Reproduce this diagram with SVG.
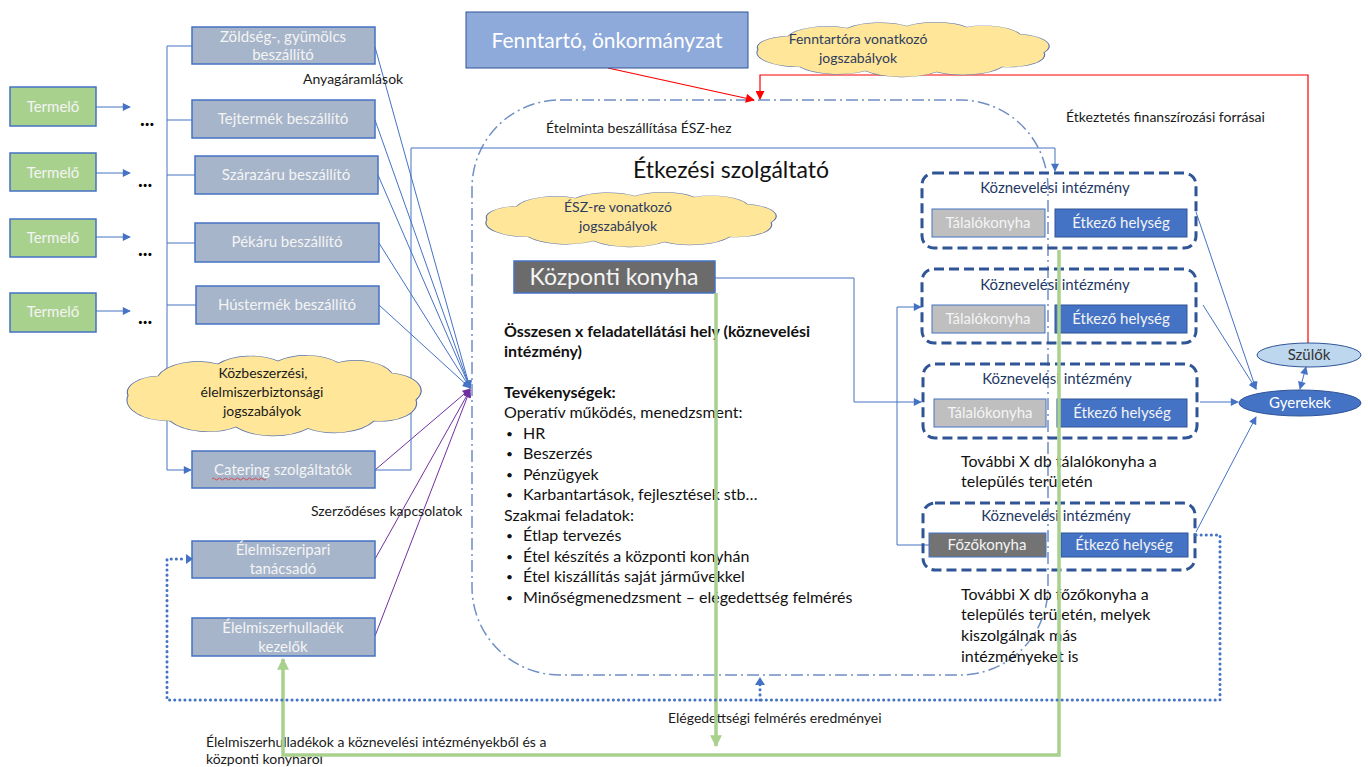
<svg xmlns="http://www.w3.org/2000/svg" width="1368" height="767" viewBox="0 0 1368 767">
<style>
text{font-family:Lato,'Liberation Sans',sans-serif;}
.term{fill:#a9d18e;stroke:#4472c4;stroke-width:1.5}
.sup{fill:#a6b5ca;stroke:#4472c4;stroke-width:1.5}
.wt{fill:#f4f4f4;font-size:15px;text-anchor:middle}
.lbl{fill:#1a1a1a;font-size:14px}
.body{fill:#111;font-size:16px}
.bul{fill:#111;font-size:12px}
.cloud{fill:#ffe699;stroke:#5b73a8;stroke-width:1.2}
.kz{fill:none;stroke:#2f5597;stroke-width:3;stroke-dasharray:10 5}
.kzt{fill:#1f3864;font-size:15px;text-anchor:middle}
.tal{fill:#bfbfbf;stroke:#4472c4;stroke-width:1}
.etk{fill:#4472c4;stroke:#2f5597;stroke-width:1}
.blue{fill:none;stroke:#4472c4;stroke-width:1}
.purp{fill:none;stroke:#7030a0;stroke-width:1}
.red{fill:none;stroke:#ff0000;stroke-width:1.2}
.green{fill:none;stroke:#a9d18e;stroke-width:3.5}
.dot{fill:none;stroke:#4472c4;stroke-width:3;stroke-dasharray:0.1 5;stroke-linecap:round}
.dots{fill:#000;font-size:20px;font-weight:700}
</style>
<defs>
<marker id="ab" viewBox="0 0 10 10" refX="9" refY="5" markerWidth="10" markerHeight="8" markerUnits="userSpaceOnUse" orient="auto-start-reverse"><path d="M0,0 L10,5 L0,10 Z" fill="#4472c4"/></marker>
<marker id="ap" viewBox="0 0 10 10" refX="9" refY="5" markerWidth="10" markerHeight="8" markerUnits="userSpaceOnUse" orient="auto"><path d="M0,0 L10,5 L0,10 Z" fill="#7030a0"/></marker>
<marker id="ar" viewBox="0 0 10 10" refX="9" refY="5" markerWidth="11" markerHeight="9" markerUnits="userSpaceOnUse" orient="auto"><path d="M0,0 L10,5 L0,10 Z" fill="#ff0000"/></marker>
<marker id="ag" viewBox="0 0 10 10" refX="9" refY="5" markerWidth="14" markerHeight="12" markerUnits="userSpaceOnUse" orient="auto"><path d="M0,0 L10,5 L0,10 Z" fill="#a9d18e"/></marker>
<path id="cloudp" d="M2,27 A11,11 0 0 1 12,14 A14,14 0 0 1 32,6 A14,14 0 0 1 52,4 A14,14 0 0 1 72,5 A13,13 0 0 1 90,12 A12,12 0 0 1 98,30 A12,12 0 0 1 84,44 A15,15 0 0 1 62,49 A16,16 0 0 1 38,48 A15,15 0 0 1 16,44 A14,14 0 0 1 2,27 Z"/>
</defs>

<rect width="1368" height="767" fill="#ffffff"/>

<g id="container-esz">
<rect x="472" y="100" width="576" height="575" rx="88" ry="88" fill="none" stroke="#6f8fc5" stroke-width="1.5" stroke-dasharray="12 4 2 4"/>
</g>

<g id="connectors">
<line class="blue" x1="96" y1="107" x2="130" y2="107" stroke-width="1.5" marker-end="url(#ab)"/>
<line class="blue" x1="96" y1="173" x2="130" y2="173" stroke-width="1.5" marker-end="url(#ab)"/>
<line class="blue" x1="96" y1="237" x2="130" y2="237" stroke-width="1.5" marker-end="url(#ab)"/>
<line class="blue" x1="96" y1="311" x2="130" y2="311" stroke-width="1.5" marker-end="url(#ab)"/>
<path class="blue" stroke-width="2" d="M192,46 H167 V470 H191" marker-end="url(#ab)"/>
<path class="blue" stroke-width="1.5" d="M167,120 H192 M167,175 H195 M167,243 H195 M167,305 H196"/>
<line class="blue" x1="375" y1="47" x2="470" y2="388" marker-end="url(#ab)"/>
<line class="blue" x1="375" y1="120" x2="470" y2="388" marker-end="url(#ab)"/>
<line class="blue" x1="378" y1="175" x2="470" y2="388" marker-end="url(#ab)"/>
<line class="blue" x1="379" y1="243" x2="470" y2="388" marker-end="url(#ab)"/>
<line class="blue" x1="379" y1="305" x2="470" y2="388" marker-end="url(#ab)"/>
<line class="purp" x1="375" y1="470" x2="470" y2="389" marker-end="url(#ap)"/>
<line class="purp" x1="375" y1="559" x2="470" y2="390" marker-end="url(#ap)"/>
<line class="purp" x1="375" y1="636" x2="470" y2="390" marker-end="url(#ap)"/>
<path class="blue" d="M375,470 H411 V148 H1055 V171" marker-end="url(#ab)"/>
<path class="blue" d="M715,278 H854 V402 H921" marker-end="url(#ab)"/>
<path class="blue" d="M929,545 H897 V307 H921" marker-end="url(#ab)"/>
<line class="blue" x1="1196" y1="212" x2="1256" y2="389" marker-end="url(#ab)"/>
<line class="blue" x1="1203" y1="305" x2="1256" y2="389" marker-end="url(#ab)"/>
<line class="blue" x1="1200" y1="402" x2="1238" y2="402" marker-end="url(#ab)"/>
<line class="blue" x1="1196" y1="532" x2="1256" y2="417" marker-end="url(#ab)"/>
<line class="blue" x1="1306" y1="367" x2="1300" y2="389" marker-start="url(#ab)" marker-end="url(#ab)"/>
<line class="red" x1="608" y1="68" x2="754" y2="100" marker-end="url(#ar)"/>
<path class="red" d="M1308,343 V75 H760 V99" marker-end="url(#ar)"/>
</g>

<g id="termelo-1"><rect class="term" x="10" y="87" width="86" height="39"/><text class="wt" x="53" y="112" font-size="16">Termelő</text></g>
<g id="termelo-2"><rect class="term" x="10" y="153" width="86" height="38"/><text class="wt" x="53" y="178" font-size="16">Termelő</text></g>
<g id="termelo-3"><rect class="term" x="10" y="219" width="86" height="38"/><text class="wt" x="53" y="243" font-size="16">Termelő</text></g>
<g id="termelo-4"><rect class="term" x="10" y="293" width="86" height="39"/><text class="wt" x="53" y="317" font-size="16">Termelő</text></g>
<g id="dots">
<text class="dots" x="140" y="126">...</text>
<text class="dots" x="138" y="187">...</text>
<text class="dots" x="138" y="256">...</text>
<text class="dots" x="138" y="324">...</text>
</g>

<g id="zoldseg"><rect class="sup" x="192" y="27" width="183" height="37"/><text class="wt" x="283" y="42">Zöldség-, gyümölcs</text><text class="wt" x="283" y="60">beszállító</text></g>
<g id="tejtermek"><rect class="sup" x="192" y="100" width="183" height="38"/><text class="wt" x="283" y="124">Tejtermék beszállító</text></g>
<g id="szarazaru"><rect class="sup" x="195" y="156" width="183" height="38"/><text class="wt" x="286" y="180">Szárazáru beszállító</text></g>
<g id="pekaru"><rect class="sup" x="195" y="223" width="184" height="39"/><text class="wt" x="287" y="247">Pékáru beszállító</text></g>
<g id="hustermek"><rect class="sup" x="196" y="286" width="183" height="38"/><text class="wt" x="287" y="310">Hústermék beszállító</text></g>
<g id="catering"><rect class="sup" x="192" y="451" width="183" height="37"/><text class="wt" x="283" y="475">Catering szolgáltatók</text>
<path d="M212,479 q1.5,-2 3,0 t3,0 t3,0 t3,0 t3,0 t3,0 t3,0 t3,0 t3,0 t3,0 t3,0 t3,0 t3,0 t3,0 t3,0 t3,0 t3,0 t3,0" fill="none" stroke="#e03030" stroke-width="0.8"/></g>
<g id="tanacsado"><rect class="sup" x="192" y="541" width="183" height="37"/><text class="wt" x="283" y="555">Élelmiszeripari</text><text class="wt" x="283" y="574">tanácsadó</text></g>
<g id="hulladek"><rect class="sup" x="192" y="618" width="183" height="38"/><text class="wt" x="283" y="633">Élelmiszerhulladék</text><text class="wt" x="283" y="652">kezelők</text></g>

<g id="cloud-kozbeszerzes">
<use href="#cloudp" class="cloud" transform="translate(122,355) scale(3,1.5)" style="stroke-width:0.4"/>
<text x="263" y="378" font-size="14" fill="#1a1a1a" text-anchor="middle">Közbeszerzési,</text>
<text x="262" y="397" font-size="14" fill="#1a1a1a" text-anchor="middle">élelmiszerbiztonsági</text>
<text x="262" y="416" font-size="14" fill="#1a1a1a" text-anchor="middle">jogszabályok</text>
</g>

<g id="fenntarto"><rect x="466" y="12" width="282" height="56" fill="#8eaadb" stroke="#2f5597" stroke-width="1"/><text x="607" y="48" font-size="21" fill="#ffffff" text-anchor="middle">Fenntartó, önkormányzat</text></g>

<g id="cloud-fenntartora">
<use href="#cloudp" class="cloud" transform="translate(752,22) scale(2.98,1.02)" style="stroke-width:0.4"/>
<text x="858" y="44" font-size="14" fill="#2e3d5c" text-anchor="middle">Fenntartóra vonatkozó</text>
<text x="858" y="63" font-size="14" fill="#2e3d5c" text-anchor="middle">jogszabályok</text>
</g>

<g id="cloud-esz">
<use href="#cloudp" class="cloud" transform="translate(481,192) scale(2.96,1.02)" style="stroke-width:0.4"/>
<text x="618" y="212" font-size="14" fill="#2e3d5c" text-anchor="middle">ÉSZ-re vonatkozó</text>
<text x="618" y="231" font-size="14" fill="#2e3d5c" text-anchor="middle">jogszabályok</text>
</g>

<g id="etkezesi-szolgaltato-title"><text x="731" y="178" font-size="23" fill="#111" text-anchor="middle">Étkezési szolgáltató</text></g>

<g id="kozponti-konyha"><rect x="514" y="261" width="201" height="32" fill="#6b6b6b" stroke="#4472c4" stroke-width="1.5"/><text x="614" y="285" font-size="23" fill="#f4f4f4" text-anchor="middle">Központi konyha</text></g>

<g id="leiras">
<text class="body" x="504" y="337" font-weight="700">Összesen x feladatellátási hely (köznevelési</text>
<text class="body" x="504" y="357" font-weight="700">intézmény)</text>
<text class="body" x="504" y="398" font-weight="700">Tevékenységek:</text>
<text class="body" x="504" y="418">Operatív működés, menedzsment:</text>
<text class="bul" x="506" y="438">•</text><text class="body" x="523" y="439">HR</text>
<text class="bul" x="506" y="458">•</text><text class="body" x="523" y="459">Beszerzés</text>
<text class="bul" x="506" y="479">•</text><text class="body" x="523" y="480">Pénzügyek</text>
<text class="bul" x="506" y="499">•</text><text class="body" x="523" y="500">Karbantartások, fejlesztések stb…</text>
<text class="body" x="504" y="521">Szakmai feladatok:</text>
<text class="bul" x="506" y="540">•</text><text class="body" x="523" y="541">Étlap tervezés</text>
<text class="bul" x="506" y="561">•</text><text class="body" x="523" y="562">Étel készítés a központi konyhán</text>
<text class="bul" x="506" y="581">•</text><text class="body" x="523" y="582">Étel kiszállítás saját járművekkel</text>
<text class="bul" x="506" y="602">•</text><text class="body" x="523" y="603">Minőségmenedzsment – elégedettség felmérés</text>
</g>

<g id="koznev-1">
<rect class="kz" x="922" y="173" width="274" height="75" rx="12"/>
<text class="kzt" x="1055" y="193">Köznevelési intézmény</text>
<rect class="tal" x="932" y="209" width="113" height="28"/><text class="wt" x="988" y="228">Tálalókonyha</text>
<rect class="etk" x="1055" y="209" width="132" height="28"/><text class="wt" x="1121" y="228" fill="#fff">Étkező helység</text>
</g>
<g id="koznev-2">
<rect class="kz" x="922" y="269" width="274" height="74" rx="12"/>
<text class="kzt" x="1055" y="290">Köznevelési intézmény</text>
<rect class="tal" x="932" y="305" width="113" height="28"/><text class="wt" x="988" y="324">Tálalókonyha</text>
<rect class="etk" x="1055" y="305" width="132" height="28"/><text class="wt" x="1121" y="324">Étkező helység</text>
</g>
<g id="koznev-3">
<rect class="kz" x="923" y="364" width="274" height="74" rx="12"/>
<text class="kzt" x="1057" y="384">Köznevelési intézmény</text>
<rect class="tal" x="934" y="399" width="112" height="28"/><text class="wt" x="990" y="418">Tálalókonyha</text>
<rect class="etk" x="1057" y="399" width="130" height="28"/><text class="wt" x="1122" y="418">Étkező helység</text>
</g>
<g id="koznev-4">
<rect class="kz" x="923" y="503" width="272" height="67" rx="12"/>
<text class="kzt" x="1056" y="521">Köznevelési intézmény</text>
<rect x="929" y="533" width="117" height="24" fill="#737373" stroke="#4472c4" stroke-width="1"/><text class="wt" x="987" y="550">Főzőkonyha</text>
<rect class="etk" x="1061" y="533" width="127" height="24"/><text class="wt" x="1124" y="550">Étkező helység</text>
</g>

<g id="tovabbi-talalo"><text class="body" x="961" y="467" font-size="15">További X db tálalókonyha a</text><text class="body" x="961" y="487" font-size="15">település területén</text></g>
<g id="tovabbi-fozo">
<text class="body" x="961" y="600" font-size="15">További X db főzőkonyha a</text>
<text class="body" x="961" y="620" font-size="15">település területén, melyek</text>
<text class="body" x="961" y="641" font-size="15">kiszolgálnak más</text>
<text class="body" x="961" y="662" font-size="15">intézményeket is</text>
</g>

<g id="szulok"><ellipse cx="1309" cy="355" rx="52" ry="12" fill="#bdd7ee" stroke="#2f5597" stroke-width="1"/><text x="1309" y="360" font-size="15" fill="#333" text-anchor="middle">Szülők</text></g>
<g id="gyerekek"><ellipse cx="1300" cy="403" rx="61" ry="13" fill="#4472c4" stroke="#2f5597" stroke-width="1"/><text x="1300" y="408" font-size="15" fill="#fff" text-anchor="middle">Gyerekek</text></g>

<g id="labels">
<text class="lbl" x="303" y="84">Anyagáramlások</text>
<text class="lbl" x="546" y="133">Ételminta beszállítása ÉSZ-hez</text>
<text class="lbl" x="1066" y="122">Étkeztetés finanszírozási forrásai</text>
<text class="lbl" x="311" y="516">Szerződéses kapcsolatok</text>
<text class="lbl" x="668" y="723">Elégedettségi felmérés eredményei</text>
<text class="lbl" x="206" y="747">Élelmiszerhulladékok a köznevelési intézményekből és a</text>
<text class="lbl" x="206" y="764">központi konyháról</text>
</g>

<g id="connectors-top">
<path class="green" d="M716,293 V746" marker-end="url(#ag)"/>
<path class="green" d="M1059,250 V755 H283 V659" marker-end="url(#ag)"/>
<path class="dot" d="M1196,535 H1220 V700 H167 V559 H186"/>
<path d="M186,554 L193,559 L186,564 Z" fill="#4472c4"/>
<path class="dot" d="M760,700 V684"/>
<path d="M755,685 L760,677 L765,685 Z" fill="#4472c4"/>
</g>
</svg>
